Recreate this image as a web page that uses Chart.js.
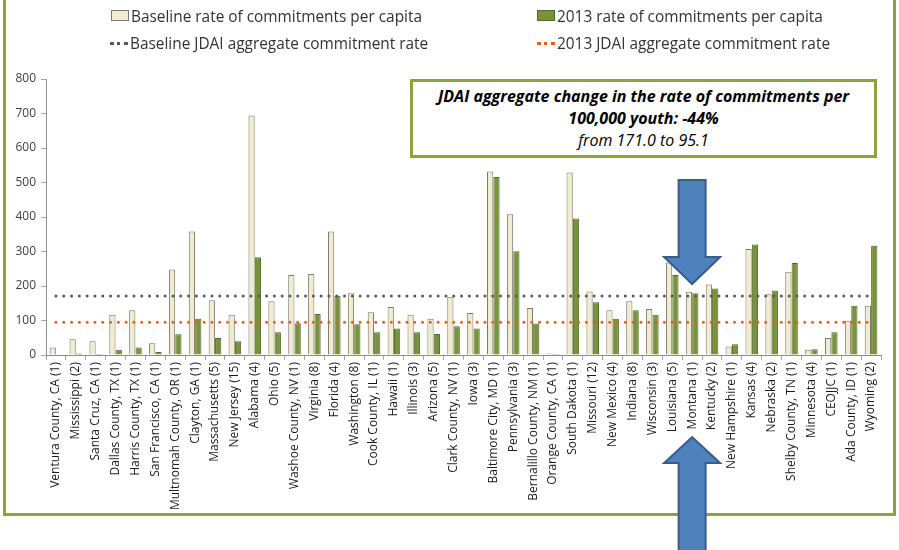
<!DOCTYPE html>
<html>
<head>
<meta charset="utf-8">
<script src="https://cdn.jsdelivr.net/npm/chart.js@4.4.1/dist/chart.umd.min.js"></script>
<style>
  html, body { margin: 0; padding: 0; background: #fff; }
  #wrap { position: relative; width: 899px; height: 550px; overflow: hidden; font-family: "Open Sans", sans-serif; }
  #frame { position: absolute; left: 3px; top: -10px; width: 887px; height: 520px; border: 3px solid #8ea33b; }
  #chart { position: absolute; left: 0; top: 0; }
  .legend-item { position: absolute; font-size: 15.4px; color: #333; white-space: nowrap; line-height: 18px; }
  .swatch { display: inline-block; width: 16px; height: 9px; margin-right: 2px; vertical-align: 1px; }
  .dots { display: inline-block; width: 18px; height: 0; border-top: 3px dotted; margin-right: 2px; vertical-align: 4px; }
  #note { position: absolute; left: 410px; top: 79px; width: 461px; height: 70px; border: 3px solid #8ea33b; background: #fff;
          text-align: center; font-size: 16px; line-height: 22px; color: #000; padding-top: 3px; box-sizing: content-box; }
</style>
</head>
<body>
<div id="wrap">
  <div id="frame"></div>
  <canvas id="chart" width="899" height="550"></canvas>
  <div id="legend"></div>
  <div id="note"></div>
</div>
<script>
const categories = [
  "Ventura County, CA (1)", "Mississippi (2)", "Santa Cruz, CA (1)", "Dallas County, TX (1)",
  "Harris County, TX (1)", "San Francisco, CA (1)", "Multnomah County, OR (1)", "Clayton, GA (1)",
  "Massachusetts (5)", "New Jersey (15)", "Alabama (4)", "Ohio (5)", "Washoe County, NV (1)",
  "Virginia (8)", "Florida (4)", "Washington (8)", "Cook County, IL (1)", "Hawaii (1)",
  "Illinois (3)", "Arizona (5)", "Clark County, NV (1)", "Iowa (3)", "Baltimore City, MD (1)",
  "Pennsylvania (3)", "Bernalillo County, NM (1)", "Orange County, CA (1)", "South Dakota (1)",
  "Missouri (12)", "New Mexico (4)", "Indiana (8)", "Wisconsin (3)", "Louisiana (5)",
  "Montana (1)", "Kentucky (2)", "New Hampshire (1)", "Kansas (4)", "Nebraska (2)",
  "Shelby County, TN (1)", "Minnesota (4)", "CEOJJC (1)", "Ada County, ID (1)", "Wyoming (2)"
];

const baselineRates = [
  22, 46, 40, 117, 130, 34, 248, 358, 159, 117, 694, 156, 232,
  235, 358, 179, 124, 139, 117, 105, 169, 122, 532,
  408, 136, 4, 529, 184, 130, 156, 133, 268,
  183, 204, 25, 307, 176, 241, 15, 49, 99, 143
];

const rates2013 = [
  0, 4, 3, 15, 22, 9, 60, 105, 49, 40, 283, 66, 92,
  119, 172, 89, 66, 77, 66, 61, 83, 77, 516,
  301, 91, 3, 396, 153, 105, 130, 117, 232,
  179, 193, 31, 320, 187, 267, 17, 66, 143, 317
];

const baselineAggregate = 171.0;
const aggregate2013 = 95.1;

const seriesNames = [
  "Baseline rate of commitments per capita",
  "2013 rate of commitments per capita",
  "Baseline JDAI aggregate commitment rate",
  "2013 JDAI aggregate commitment rate"
];

const noteLines = [
  "JDAI aggregate change in the rate of commitments per",
  "100,000 youth: -44%",
  "from 171.0 to 95.1"
];

const highlighted = "Montana (1)";

const colors = {
  baseFill: "#f1ecd0",
  baseBorder: "#7a7a72",
  greenFill: "#77933c",
  greenBorder: "#56682c",
  grayDots: "#595959",
  orangeDots: "#e4601a",
  arrowFill: "#4f81bd",
  arrowBorder: "#385d8a"
};

// arrows pointing at the highlighted category
const arrowPlugin = {
  id: "arrows",
  afterDraw(chart) {
    const ctx = chart.ctx;
    const cx = chart.scales.x.getPixelForValue(categories.indexOf(highlighted));
    const shaft = 13.5, head = 28;

    function arrow(shaftEnd, headBase, tip) {
      ctx.beginPath();
      ctx.moveTo(cx - shaft, shaftEnd);
      ctx.lineTo(cx - shaft, headBase);
      ctx.lineTo(cx - head, headBase);
      ctx.lineTo(cx, tip);
      ctx.lineTo(cx + head, headBase);
      ctx.lineTo(cx + shaft, headBase);
      ctx.lineTo(cx + shaft, shaftEnd);
      ctx.closePath();
      ctx.fillStyle = colors.arrowFill;
      ctx.fill();
      ctx.lineWidth = 2;
      ctx.strokeStyle = colors.arrowBorder;
      ctx.stroke();
    }

    ctx.save();
    arrow(180, 257, 284);
    arrow(560, 463, 437);
    ctx.restore();
  }
};

new Chart(document.getElementById("chart"), {
  data: {
    labels: categories,
    datasets: [
      {
        type: "line",
        label: seriesNames[2],
        data: categories.map(() => baselineAggregate),
        borderColor: colors.grayDots,
        borderWidth: 3,
        borderDash: [0, 7.8],
        borderCapStyle: "round",
        pointRadius: 0,
        order: 0
      },
      {
        type: "line",
        label: seriesNames[3],
        data: categories.map(() => aggregate2013),
        borderColor: colors.orangeDots,
        borderWidth: 3,
        borderDash: [0, 7.8],
        borderCapStyle: "round",
        pointRadius: 0,
        order: 0
      },
      {
        type: "bar",
        label: seriesNames[0],
        data: baselineRates,
        backgroundColor: colors.baseFill,
        borderColor: colors.baseBorder,
        borderWidth: 1,
        categoryPercentage: 0.64,
        barPercentage: 0.98,
        order: 1
      },
      {
        type: "bar",
        label: seriesNames[1],
        data: rates2013,
        backgroundColor: colors.greenFill,
        borderColor: colors.greenBorder,
        borderWidth: 1,
        categoryPercentage: 0.64,
        barPercentage: 0.98,
        order: 1
      }
    ]
  },
  options: {
    responsive: false,
    animation: false,
    layout: { padding: { top: 79, right: 18, left: 0, bottom: 0 } },
    plugins: {
      legend: { display: false },
      tooltip: { enabled: false }
    },
    scales: {
      x: {
        afterFit: (s) => { s.height = 195; },
        grid: { offset: true, drawOnChartArea: false, drawTicks: true, tickLength: 5, color: "#a6a6a6" },
        border: { color: "#8c8c8c" },
        ticks: {
          autoSkip: false,
          minRotation: 90,
          maxRotation: 90,
          padding: 2,
          color: "#1a1a1a",
          font: { family: "Open Sans", size: 12 }
        }
      },
      y: {
        min: 0,
        max: 800,
        afterFit: (s) => { s.width = 46; },
        grid: { drawOnChartArea: false, drawTicks: true, tickLength: 5, color: "#a6a6a6" },
        border: { color: "#8c8c8c" },
        ticks: {
          stepSize: 100,
          padding: 5,
          color: "#404040",
          font: { family: "Open Sans", size: 12 }
        }
      }
    }
  },
  plugins: [arrowPlugin]
});

// legend, two rows of two
const legend = document.getElementById("legend");
const legendSpots = [
  { left: 111, top: 8, mark: "swatch", fill: colors.baseFill, border: colors.baseBorder },
  { left: 537, top: 8, mark: "swatch", fill: colors.greenFill, border: colors.greenBorder },
  { left: 110, top: 35, mark: "dots", border: colors.grayDots },
  { left: 537, top: 35, mark: "dots", border: colors.orangeDots }
];
legendSpots.forEach((spot, i) => {
  const item = document.createElement("div");
  item.className = "legend-item";
  item.style.left = spot.left + "px";
  item.style.top = spot.top + "px";
  const mark = document.createElement("span");
  mark.className = spot.mark;
  if (spot.mark === "swatch") {
    mark.style.background = spot.fill;
    mark.style.border = "1px solid " + spot.border;
  } else {
    mark.style.borderTopColor = spot.border;
  }
  item.appendChild(mark);
  item.appendChild(document.createTextNode(seriesNames[i]));
  legend.appendChild(item);
});

const note = document.getElementById("note");
note.innerHTML =
  "<div style='font-weight:bold;font-style:italic'>" + noteLines[0] + "</div>" +
  "<div style='font-weight:bold;font-style:italic'>" + noteLines[1] + "</div>" +
  "<div style='font-style:italic'>" + noteLines[2] + "</div>";
</script>
</body>
</html>
